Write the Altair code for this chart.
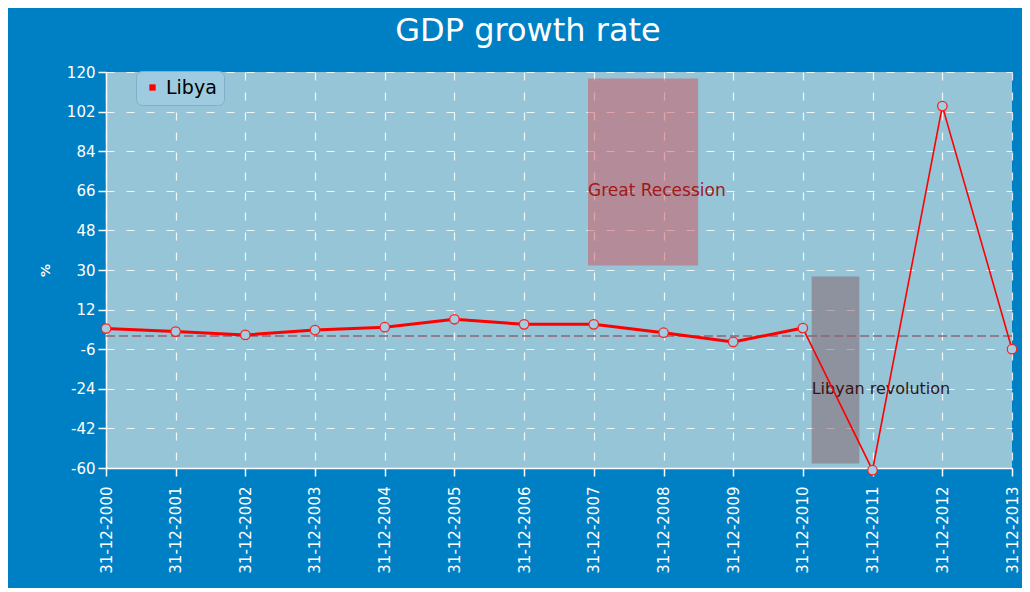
import altair as alt
import pandas as pd

# ---------------- data ----------------
years = list(range(2000, 2014))
dates = [f"{y}-12-31" for y in years]
growth = [3.4, 2.0, 0.5, 2.7, 4.0, 7.6, 5.3, 5.3, 1.5, -2.7, 3.6, -61.0, 104.5, -6.0]
series = ["Libya"] * len(years)

y_ticks = [-60, -42, -24, -6, 12, 30, 48, 66, 84, 102, 120]

event_labels = ["Great Recession", "Libyan revolution"]
event_start = ["2007-12-01", "2011-02-15"]
event_end = ["2009-06-30", "2011-10-23"]
event_low = [32, -58]
event_high = [117, 27]
event_label_y = [66, -24]

# ---------------- tables ----------------
df = pd.DataFrame({"date": dates, "year": years, "growth": growth, "series": series})
ev = pd.DataFrame({"label": event_labels, "start": event_start, "end": event_end,
                   "low": event_low, "high": event_high, "ly": event_label_y})
zero = pd.DataFrame({"y": [0]})

# ---------------- scales / axes ----------------
xscale = alt.Scale(type="utc",
                   domain=[alt.DateTime(year=2000, month=12, date=31, utc=True),
                           alt.DateTime(year=2013, month=12, date=31, utc=True)])
yscale = alt.Scale(domain=[-60, 120], nice=False, zero=False)

xaxis = alt.Axis(values=[alt.DateTime(year=y, month=12, date=31, utc=True) for y in years],
                 labelExpr="utcFormat(datum.value, '%d-%m-%Y')",
                 labelAngle=270, labelAlign="right", labelBaseline="middle",
                 labelFontSize=15, labelPadding=10, labelColor="white",
                 labelFont="DejaVu Sans", tickColor="white", tickSize=8,
                 domainColor="white", domainWidth=1.5, tickWidth=1.5,
                 grid=True, gridColor="white", gridDash=[8, 12], gridOpacity=0.85,
                 gridWidth=1.2, labelOverlap=False, labelBound=False, title=None)
yaxis = alt.Axis(values=y_ticks, labelExpr="'' + datum.value",
                 labelFontSize=15, labelColor="white",
                 labelFont="DejaVu Sans", labelPadding=3,
                 tickColor="white", tickSize=8, tickWidth=1.5,
                 domainColor="white", domainWidth=1.5,
                 grid=True, gridColor="white", gridDash=[8, 12], gridOpacity=0.85,
                 gridWidth=1.2, title="%", titleColor="white", titleFontSize=13,
                 titleFont="DejaVu Sans", titleFontWeight="bold", titlePadding=14)


def X(field):
    return alt.X(field, type="temporal", scale=xscale, axis=xaxis, title=None)


def Y(field):
    return alt.Y(field, type="quantitative", scale=yscale, axis=yaxis, title="%")


is_rec = "datum.label == 'Great Recession'"

rects = alt.Chart(ev).mark_rect(opacity=0.5).encode(
    x=X("start"), x2="end", y=Y("low"), y2="high",
    fill=alt.condition(is_rec, alt.value("#D2535A"), alt.value("#865E64")),
)

rect_text = alt.Chart(ev).mark_text(align="left", baseline="middle",
                                    font="DejaVu Sans").encode(
    x=X("start"), y=Y("ly"), text="label:N",
    color=alt.condition(is_rec, alt.value("#A01818"), alt.value("#331515")),
    size=alt.condition(is_rec, alt.value(17), alt.value(16)),
)

zero_rule = alt.Chart(zero).mark_rule(color="#8E6474", strokeDash=[9, 4],
                                      strokeWidth=1.5).encode(y=Y("y"))

line_thick = alt.Chart(df).transform_filter("datum.year <= 2010").mark_line(
    strokeWidth=3).encode(
    x=X("date"), y=Y("growth"),
    color=alt.Color("series:N", scale=alt.Scale(domain=["Libya"], range=["#FF0000"]),
                    legend=alt.Legend(title=None, orient="none", legendX=30, legendY=-1,
                                      symbolType="square", symbolSize=40,
                                      symbolFillColor="#FF0000", symbolStrokeWidth=0,
                                      labelFontSize=19, labelColor="black",
                                      labelFont="DejaVu Sans",
                                      fillColor="#9ECBDF", strokeColor="#7FB0CA",
                                      cornerRadius=6, padding=7)),
)

line_thin = alt.Chart(df).transform_filter("datum.year >= 2010").mark_line(
    strokeWidth=1.6, color="#FF0000").encode(x=X("date"), y=Y("growth"))

points = alt.Chart(df).mark_point(shape="circle", size=90, filled=True,
                                  fill="#A3CDE0", stroke="#FF2020", strokeWidth=1.3,
                                  opacity=1).encode(x=X("date"), y=Y("growth"))

chart = alt.layer(rects, rect_text, zero_rule, line_thick, line_thin, points).properties(
    width=906, height=396,
    background="#0080C4",
    padding={"left": 98, "top": 64, "right": 10, "bottom": 120},
    autosize=alt.AutoSizeParams(type="none"),
    title=alt.TitleParams("GDP growth rate", fontSize=32, color="white",
                          font="DejaVu Sans", fontWeight="normal", anchor="middle",
                          dx=-31, offset=17),
).configure_view(fill="#96C5D8", stroke=None)

chart.save("out.html", embed_options={"renderer": "svg", "actions": False})
